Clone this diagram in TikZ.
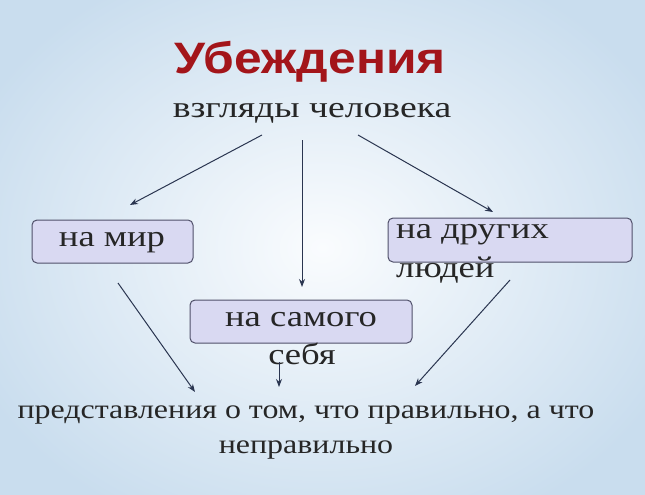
\documentclass[tikz,border=0pt]{standalone}
\usepackage{fontspec}
\setmainfont{Liberation Serif}
\newfontfamily\titlefont{Liberation Sans}
\usetikzlibrary{arrows.meta}
\definecolor{bgout}{HTML}{C9DDEE}
\definecolor{bgin}{HTML}{FAFCFE}
\definecolor{boxfill}{HTML}{D9D9F2}
\definecolor{boxline}{HTML}{50506A}
\definecolor{ttl}{HTML}{A3151A}
\definecolor{arr}{HTML}{2A3550}
\tikzset{
  box/.style={draw=boxline,line width=1pt,fill=boxfill,rounded corners=5pt},
  txt/.style={inner sep=0pt,xscale=1.22,font=\fontsize{30}{32}\selectfont,text=black!85},
  con/.style={draw=arr,line width=1pt,-{Stealth[length=8pt,width=6pt]}},
  ttlsty/.style={inner sep=0pt,xscale=1.13,font=\titlefont\bfseries\fontsize{44}{48}\selectfont}
}
\begin{document}
\begin{tikzpicture}[x=1pt,y=-1pt]
\useasboundingbox (0,0) rectangle (645,495);
\shade[inner color=bgin,outer color=bgout] (-60,-60) rectangle (705,555);
\node (title) [ttlsty,text=ttl] at (310,62) {Убеждения};
\node (sub) [txt,xscale=1.03] at (312,113) {взгляды человека};
\draw[box] (32,220) rectangle (193,263);
\node (mir) [txt] at (112,243) {на мир};
\draw[box] (388,218) rectangle (632,262);
\node (dr) [txt,anchor=north west] at (396,224) {на других};
\node (dr2) [txt,anchor=north west] at (396,257) {людей};
\draw[box] (190,300) rectangle (412,343);
\node (sam) [txt] at (301,320) {на самого};
\node (sam2) [txt] at (302,354) {себя};
\node (bot) [txt,xscale=0.97,font=\fontsize{27}{30}\selectfont] at (306,415) {представления о том, что правильно, а что};
\node (bot2) [txt,xscale=0.97,font=\fontsize{27}{30}\selectfont] at (306,450) {неправильно};
\coordinate (a1) at (262,135); \coordinate (b1) at (130,205);
\coordinate (a2) at (302,140); \coordinate (b2) at (302,287);
\coordinate (a3) at (358,135); \coordinate (b3) at (493,212);
\coordinate (a4) at (118,283); \coordinate (b4) at (195,392);
\coordinate (a5) at (510,280); \coordinate (b5) at (415,386);
\coordinate (a6) at (279,362); \coordinate (b6) at (279,387);
\draw[con] (a1) -- (b1);
\draw[con] (a2) -- (b2);
\draw[con] (a3) -- (b3);
\draw[con] (a4) -- (b4);
\draw[con] (a5) -- (b5);
\draw[con] (a6) -- (b6);
\end{tikzpicture}
\end{document}
